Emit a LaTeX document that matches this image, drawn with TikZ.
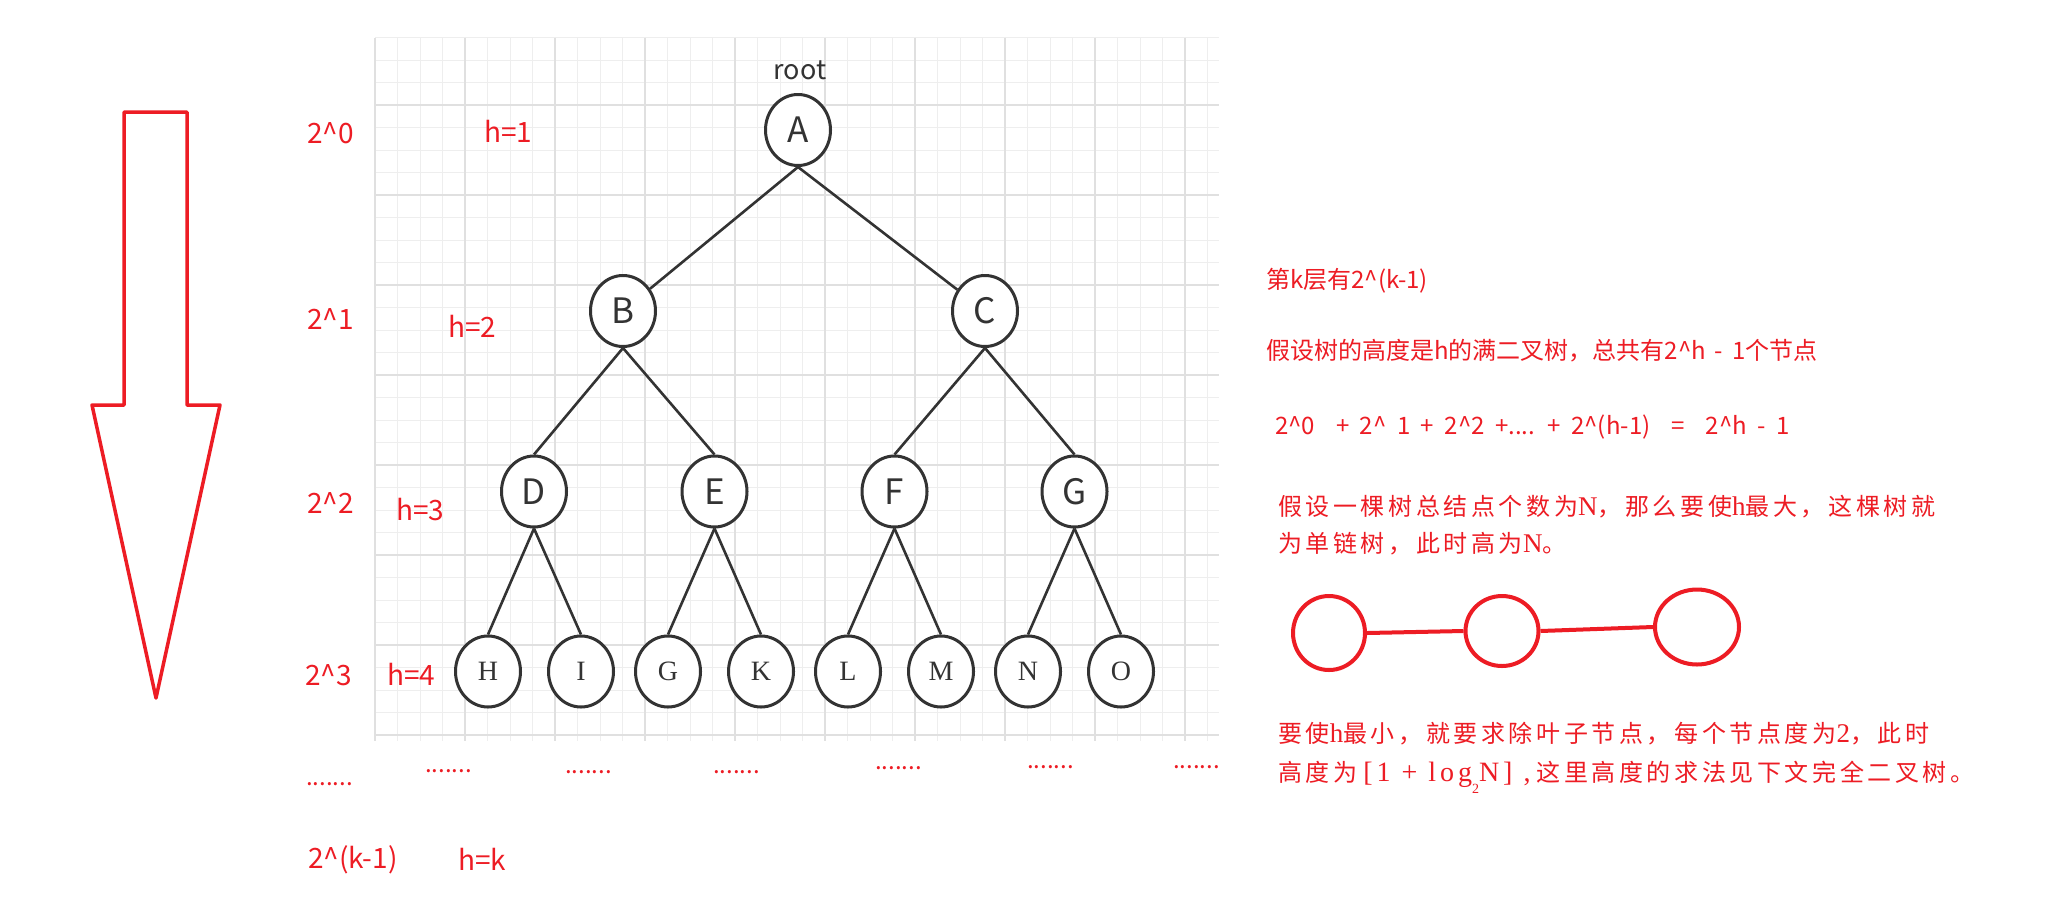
\documentclass[tikz,border=0pt]{standalone}
\usepackage{fontspec}
\setmainfont{Liberation Serif}
\newfontfamily\cjk{Noto Sans CJK SC}
\newfontfamily\cjksp{Noto Sans CJK SC}[LetterSpace=15]
\newfontfamily\sersp{Liberation Serif}[LetterSpace=8]
\newfontfamily\serwide{Liberation Serif}[LetterSpace=14]
\usetikzlibrary{shapes.geometric}
\definecolor{myred}{RGB}{237,28,36}
\definecolor{dk}{RGB}{51,51,51}
\definecolor{gminor}{RGB}{238,238,238}
\definecolor{gmajor}{RGB}{224,224,224}
\newcommand\fsz[1]{\fontsize{#1}{#1}\selectfont}
\newcommand\zs[1]{{\cjksp\fsz{24}#1}}
\newcommand\ls[1]{{\sersp\fsz{27}#1}}
\newcommand\lw[1]{{\serwide\fsz{28}\spaceskip=11pt#1}}
\begin{document}
\begin{tikzpicture}[x=1pt,y=-1pt,
  gridminorline/.style={draw=gminor,line width=1pt},
  gridmajorline/.style={draw=gmajor,line width=1.5pt},
  tn/.style={ellipse,draw=dk,line width=3pt,fill=white,minimum width=65pt,minimum height=71pt,inner sep=0pt,text=dk,font=\cjk\fsz{35}},
  leaf/.style={tn,font=\fsz{28}},
  edge/.style={draw=dk,line width=2.6pt},
  lbl/.style={text=myred,font=\cjk\fsz{28},inner sep=0pt,anchor=base west},
  dots/.style={text=myred,font=\cjk\fsz{24},inner sep=0pt,anchor=base west},
  rt/.style={text=myred,font=\cjk\fsz{24},inner sep=0pt,anchor=base west},
  rs/.style={text=myred,font=\fsz{24},inner sep=0pt,anchor=base west},
  rc/.style={ellipse,draw=myred,line width=4pt,inner sep=0pt},
  rl/.style={draw=myred,line width=4pt}
]
\useasboundingbox (0,0) rectangle (2066,906);
\fill[white] (0,0) rectangle (2066,906);

% grid
\foreach \i in {0,...,31} \draw[gridminorline] (375,37.5+22.5*\i) -- (1219,37.5+22.5*\i);
\foreach \i in {0,...,37} \draw[gridminorline] (375+22.5*\i,37.5) -- (375+22.5*\i,741);
\foreach \i in {0,...,7} \draw[gridmajorline] (375,105+90*\i) -- (1219,105+90*\i);
\foreach \i in {0,...,9} \draw[gridmajorline] (375+90*\i,37.5) -- (375+90*\i,741);

% big arrow
\draw[myred,line width=3.5pt,line join=round] (124,112) -- (187,112) -- (187,405) -- (220,405) -- (156,698) -- (92,405) -- (124,405) -- cycle;

% tree
\node[tn] (A) at (798,130) {A};
\node[tn] (B) at (623,311) {B};
\node[tn] (C) at (985,311) {C};
\node[tn] (D) at (534,491.5) {D};
\node[tn] (E) at (714.5,491.5) {E};
\node[tn] (F) at (894.5,491.5) {F};
\node[tn] (G) at (1074.5,491.5) {G};
\node[leaf] (H) at (488,671.5) {H};
\node[leaf] (I) at (581,671.5) {I};
\node[leaf] (G2) at (668,671.5) {G};
\node[leaf] (K) at (761,671.5) {K};
\node[leaf] (L) at (848,671.5) {L};
\node[leaf] (M) at (941,671.5) {M};
\node[leaf] (N) at (1028,671.5) {N};
\node[leaf] (O) at (1121,671.5) {O};
\node[text=dk,font=\cjk\fsz{27},inner sep=0pt,anchor=base] (root) at (800,79) {root};

\draw[edge] (A.south) -- (B);
\draw[edge] (A.south) -- (C);
\draw[edge] (B.south) -- (D.north);
\draw[edge] (B.south) -- (E.north);
\draw[edge] (C.south) -- (F.north);
\draw[edge] (C.south) -- (G.north);
\draw[edge] (D.south) -- (H.north);
\draw[edge] (D.south) -- (I.north);
\draw[edge] (E.south) -- (G2.north);
\draw[edge] (E.south) -- (K.north);
\draw[edge] (F.south) -- (L.north);
\draw[edge] (F.south) -- (M.north);
\draw[edge] (G.south) -- (N.north);
\draw[edge] (G.south) -- (O.north);

% left labels
\node[lbl] (l0) at (307,143) {2\textasciicircum0};
\node[lbl] (h1) at (484,142) {h=1};
\node[lbl] (l1) at (307,329) {2\textasciicircum1};
\node[lbl] (h2) at (448,337) {h=2};
\node[lbl] (l2) at (307,513) {2\textasciicircum2};
\node[lbl] (h3) at (396,520) {h=3};
\node[lbl] (l3) at (305,685) {2\textasciicircum3};
\node[lbl] (h4) at (387,685) {h=4};
\node[lbl] (lk) at (308,868) {2\textasciicircum(k-1)};
\node[lbl] (hk) at (458,870) {h=k};

% dots
\node[dots] (d1) at (306,785) {.......};
\node[dots] (d2) at (425,772) {.......};
\node[dots] (d3) at (565,773) {.......};
\node[dots] (d4) at (713,773) {.......};
\node[dots] (d5) at (875,769) {.......};
\node[dots] (d6) at (1027,768) {.......};
\node[dots] (d7) at (1173,768) {.......};

% right texts
\node[rt] (t1) at (1266,288) {第k层有2\textasciicircum(k-1)};
\node[rt] (t2) at (1266,359) {\spaceskip=9pt 假设树的高度是h的满二叉树，总共有2\textasciicircum h - 1个节点};
\node[rt] (t3) at (1275,434) {\spaceskip=10.5pt 2\textasciicircum0\ \ + 2\textasciicircum\ 1 + 2\textasciicircum2 +.... + 2\textasciicircum(h-1)\ \ =\ \ 2\textasciicircum h - 1};
\node[rs] (t4) at (1278,515) {\zs{假设一棵树总结点个数为}\ls{N}\zs{，那么要使}\ls{h}\zs{最大，这棵树就}};
\node[rs] (t5) at (1278,552) {\zs{为单链树，此时高为}\ls{N}\zs{。}};
\node[rs] (t6) at (1278,742) {\zs{要使}\ls{h}\zs{最小，就要求除叶子节点，每个节点度为}\ls{2}\zs{，此时}};
\node[rs] (t7) at (1278,781) {\zs{高度为}\lw{\hspace{6pt}[1 + log}\raisebox{-12pt}{\fsz{14}2}\lw{N]\ ,}\hspace{6pt}\zs{这里高度的求法见下文完全二叉树。}};

% chain
\node[rc,minimum width=72pt,minimum height=74pt] (c1) at (1329,633) {};
\node[rc,minimum width=73pt,minimum height=70pt] (c2) at (1502,631) {};
\node[rc,minimum width=84pt,minimum height=75pt] (c3) at (1697,627) {};
\draw[rl] (c1.east) -- (c2.west);
\draw[rl] (c2.east) -- (c3.west);
\end{tikzpicture}
\end{document}
